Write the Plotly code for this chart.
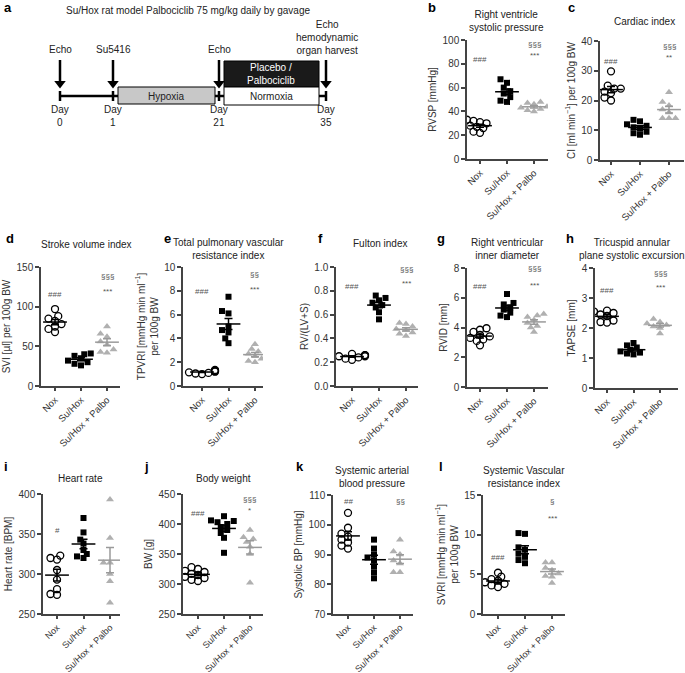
"""Su/Hox rat model with Palbociclib: timeline schematic (a) and dot plots (b-l)."""

import numpy as np
import plotly.graph_objects as go

W, H = 685, 673
FONT = "Liberation Sans, Arial, sans-serif"
AXIS_COLOR = "#444444"
TEXT_COLOR = "#222222"

GROUPS = ["Nox", "Su/Hox", "Su/Hox + Palbo"]

# a: study timeline
timeline_title = "Su/Hox rat model Palbociclib 75 mg/kg daily by gavage"
timeline_days = ["0", "1", "21", "35"]
timeline_events = ["Echo", "Su5416", "Echo", "Echo<br>hemodynamic<br>organ harvest"]
phase_hypoxia = "Hypoxia"
phase_normoxia = "Normoxia"
phase_treatment = "Placebo /<br>Palbociclib"

# b: RVSP [mmHg]
rvsp_nox = [22, 23, 26, 27, 28, 30, 31, 32, 33]
rvsp_suhox = [67, 64, 60, 57, 55, 52, 49, 48]
rvsp_palbo = [48, 47, 46, 44, 43, 42, 41, 40]

# c: cardiac index
ci_nox = [29.8, 25, 24, 24, 23, 22.5, 21, 20]
ci_suhox = [13.5, 13, 12, 11.5, 11, 10.5, 9.5, 9, 8.5]
ci_palbo = [22.8, 19.5, 18.3, 17, 16, 14, 14, 14]

# d: stroke volume index
svi_nox = [97, 88, 85, 82, 78, 75, 72, 68]
svi_suhox = [41, 40, 38, 35, 32, 30, 28, 26]
svi_palbo = [75, 66, 62, 56, 52, 46, 43, 42]

# e: total pulmonary vascular resistance index
tpvri_nox = [1.0, 1.05, 1.1, 1.15, 1.2, 1.25, 1.3, 1.35]
tpvri_suhox = [7.5, 6.3, 6.1, 5.0, 4.7, 4.5, 4.0, 3.6]
tpvri_palbo = [3.5, 3.1, 2.9, 2.7, 2.5, 2.3, 2.1, 2.0]

# f: Fulton index
fulton_nox = [0.27, 0.26, 0.26, 0.25, 0.25, 0.24, 0.23, 0.22]
fulton_suhox = [0.76, 0.74, 0.72, 0.70, 0.68, 0.66, 0.62, 0.56]
fulton_palbo = [0.53, 0.52, 0.50, 0.48, 0.47, 0.45, 0.44, 0.42]

# g: RV inner diameter [mm]
rvid_nox = [3.95, 3.85, 3.7, 3.5, 3.4, 3.3, 3.2, 3.1, 2.8]
rvid_suhox = [6.25, 5.65, 5.55, 5.35, 5.2, 5.0, 4.8, 4.7]
rvid_palbo = [4.9, 4.8, 4.7, 4.5, 4.3, 4.1, 4.0, 3.7]

# h: TAPSE [mm]
tapse_nox = [2.58, 2.55, 2.5, 2.45, 2.4, 2.25, 2.2, 2.18]
tapse_suhox = [1.5, 1.42, 1.35, 1.28, 1.22, 1.18, 1.15, 1.12]
tapse_palbo = [2.3, 2.2, 2.15, 2.1, 2.05, 2.0, 1.82]

# i: heart rate [BPM]
hr_nox = [323, 320, 318, 305, 293, 281, 275, 274]
hr_suhox = [370, 352, 343, 338, 330, 325, 322, 320]
hr_palbo = [393, 345, 314, 314, 300, 291, 264]

# j: body weight [g]
bw_nox = [328, 325, 322, 320, 317, 315, 312, 310, 307, 305]
bw_suhox = [413, 406, 405, 403, 400, 395, 390, 385, 377, 352]
bw_palbo = [390, 378, 375, 370, 362, 350, 302]

# k: systolic BP [mmHg]
sbp_nox = [104, 99, 97, 96, 95, 94, 93, 92]
sbp_suhox = [95, 92, 90, 89, 88, 86, 84, 82]
sbp_palbo = [95, 91, 90, 88, 87, 84, 84]

# l: systemic vascular resistance index
svri_nox = [5.2, 4.7, 4.4, 4.2, 4.0, 3.8, 3.6, 3.4]
svri_suhox = [10.2, 10.1, 8.4, 8.1, 7.6, 7.2, 6.8, 6.4]
svri_palbo = [6.5, 6.5, 5.8, 5.5, 5.1, 4.8, 4.7, 3.9]


def px(x):
    return x / W


def py(y):
    return 1 - y / H


PANELS = [
    dict(letter="b", letter_xy=(426, 8), title="Right ventricle<br>systolic pressure", title_xy=(506, 21),
         ytitle="RVSP [mmHg]", data=(rvsp_nox, rvsp_suhox, rvsp_palbo),
         yrange=(0, 100), dtick=20, fmt="d", box=(467, 548, 40, 159), first=480, step=27,
         marks=[("###", 0, 84), ("§§§", 2, 96.6), ("***", 2, 87)]),
    dict(letter="c", letter_xy=(566, 8), title="Cardiac index", title_xy=(644, 21),
         ytitle="CI [ml min<sup>−1</sup>] per 100g BW", data=(ci_nox, ci_suhox, ci_palbo),
         yrange=(0, 40), dtick=10, fmt="d", box=(600, 684, 41, 160), first=611, step=29,
         marks=[("###", 0, 33.1), ("§§§", 2, 38), ("**", 2, 34.3)]),
    dict(letter="d", letter_xy=(4, 238), title="Stroke volume index", title_xy=(87, 244),
         ytitle="SVI [µl] per 100g BW", data=(svi_nox, svi_suhox, svi_palbo),
         yrange=(0, 150), dtick=50, fmt="d", box=(41, 120, 267, 386), first=55, step=26,
         marks=[("###", 0, 115), ("§§§", 2, 138), ("***", 2, 119)]),
    dict(letter="e", letter_xy=(162, 238), title="Total pulmonary vascular<br>resistance index",
         title_xy=(228, 249),
         ytitle="TPVRI [mmHg min ml<sup>−1</sup>]<br>per 100g BW", data=(tpvri_nox, tpvri_suhox, tpvri_palbo),
         yrange=(0, 10), dtick=2, fmt="d", box=(183, 263, 267, 386), first=202, step=26.5,
         marks=[("###", 0, 7.95), ("§§", 2, 9.35), ("***", 2, 8.1)]),
    dict(letter="f", letter_xy=(316, 238), title="Fulton index", title_xy=(380, 243),
         ytitle="RV/(LV+S)", data=(fulton_nox, fulton_suhox, fulton_palbo),
         yrange=(0, 1), dtick=0.2, fmt=".1f", box=(336, 418, 267, 386), first=352, step=27,
         marks=[("###", 0, 0.84), ("§§§", 2, 0.98), ("***", 2, 0.86)]),
    dict(letter="g", letter_xy=(435, 238), title="Right ventricular<br>inner diameter", title_xy=(507, 249),
         ytitle="RVID [mm]", data=(rvid_nox, rvid_suhox, rvid_palbo),
         yrange=(0, 8), dtick=2, fmt="d", box=(467, 548, 268, 387), first=480, step=27,
         marks=[("###", 0, 6.73), ("§§§", 2, 7.95), ("***", 2, 6.84)]),
    dict(letter="h", letter_xy=(564, 238), title="Tricuspid annular<br>plane systolic excursion",
         title_xy=(632, 249),
         ytitle="TAPSE [mm]", data=(tapse_nox, tapse_suhox, tapse_palbo),
         yrange=(0, 4), dtick=1, fmt="d", box=(595, 678, 268, 388), first=607, step=26.5,
         marks=[("###", 0, 3.24), ("§§§", 2, 3.83), ("***", 2, 3.35)]),
    dict(letter="i", letter_xy=(2, 466), title="Heart rate", title_xy=(80, 478),
         ytitle="Heart rate [BPM]", data=(hr_nox, hr_suhox, hr_palbo),
         yrange=(250, 400), dtick=50, fmt="d", box=(43, 120, 494, 614), first=57, step=26.5,
         marks=[("#", 0, 355)]),
    dict(letter="j", letter_xy=(142, 466), title="Body weight", title_xy=(223, 478),
         ytitle="BW [g]", data=(bw_nox, bw_suhox, bw_palbo),
         yrange=(250, 450), dtick=50, fmt="d", box=(183, 263, 494, 614), first=198, step=26,
         marks=[("###", 0, 418), ("§§§", 2, 440), ("*", 2, 422)]),
    dict(letter="k", letter_xy=(294, 466), title="Systemic arterial<br>blood pressure", title_xy=(372, 477),
         ytitle="Systolic BP [mmHg]", data=(sbp_nox, sbp_suhox, sbp_palbo),
         yrange=(70, 110), dtick=10, fmt="d", box=(333, 413, 495, 614), first=348, step=26,
         marks=[("##", 0, 107.8), ("§§", 2, 107.8)]),
    dict(letter="l", letter_xy=(437, 466), title="Systemic Vascular<br>resistance index", title_xy=(524, 477),
         ytitle="SVRI [mmHg min ml<sup>−1</sup>]<br>per 100g BW", data=(svri_nox, svri_suhox, svri_palbo),
         yrange=(0, 15), dtick=5, fmt="d", box=(483, 565, 495, 614), first=498, step=27,
         marks=[("###", 0, 7.1), ("§", 2, 14.2), ("***", 2, 12)]),
]

STYLES = [
    dict(symbol="circle-open", color="black", size=7, lw=1.3, bar="black"),
    dict(symbol="square", color="black", size=6, lw=0, bar="black"),
    dict(symbol="triangle-up", color="#b0b0b0", size=7, lw=0, bar="#9a9a9a"),
]


def swarm(vals, px_per_y, px_per_x, diam=6.5):
    """Simple beeswarm offsets; markers may overlap a little, like the original."""
    vals = np.asarray(vals, dtype=float)
    offsets = np.zeros(len(vals))
    placed = []
    for i in np.argsort(vals):
        y = vals[i] * px_per_y
        for c in [0, -1, 1, -2, 2, -3, 3, -4, 4]:
            x = c * diam * 0.5
            if all((x - a) ** 2 + (y - b) ** 2 >= (diam * 0.75) ** 2 for a, b in placed):
                break
        placed.append((x, y))
        offsets[i] = x / px_per_x
    return offsets


fig = go.Figure()
annotations = []
shapes = []

for k, p in enumerate(PANELS, start=1):
    x0, x1, ytop, ybot = p["box"]
    lo = -(p["first"] - x0) / p["step"]
    hi = (x1 - p["first"]) / p["step"]
    ymin, ymax = p["yrange"]
    px_per_y = (ybot - ytop) / (ymax - ymin)
    xa, ya = f"x{k}", f"y{k}"
    xtick_size = 9 if ybot > 450 else 9.5  # bottom row sits close to the page edge

    for g, (vals, st) in enumerate(zip(p["data"], STYLES)):
        offs = swarm(vals, px_per_y, p["step"])
        fig.add_trace(go.Scatter(
            x=g + offs, y=vals, mode="markers", xaxis=xa, yaxis=ya,
            marker=dict(symbol=st["symbol"], color=st["color"], size=st["size"],
                        line=dict(color=st["color"], width=st["lw"])),
            hoverinfo="y",
        ))
        mean = float(np.mean(vals))
        sem = float(np.std(vals, ddof=1) / np.sqrt(len(vals)))
        fig.add_trace(go.Scatter(
            x=[g], y=[mean], mode="markers", xaxis=xa, yaxis=ya,
            marker=dict(symbol="line-ew", size=17, line=dict(color=st["bar"], width=1.5)),
            error_y=dict(type="data", array=[sem], width=4, thickness=1.5, color=st["bar"]),
            hoverinfo="y",
        ))

    for text, g, yv in p["marks"]:
        annotations.append(dict(x=g, y=yv, xref=xa, yref=ya, text=text, showarrow=False,
                                font=dict(size=8, color="#555555", family=FONT), yanchor="middle"))

    fig.update_layout({
        f"xaxis{k}": dict(domain=[px(x0), px(x1)], range=[lo, hi], anchor=ya, automargin=False,
                          tickvals=[0, 1, 2], ticktext=GROUPS, tickangle=-45,
                          showline=True, linecolor=AXIS_COLOR, linewidth=1.5,
                          ticks="outside", ticklen=3, tickwidth=1.5, tickcolor=AXIS_COLOR,
                          showgrid=False, zeroline=False,
                          tickfont=dict(size=xtick_size, color="#333333", family=FONT)),
        f"yaxis{k}": dict(domain=[py(ybot), py(ytop)], range=[ymin, ymax], anchor=xa, automargin=False,
                          dtick=p["dtick"], tick0=ymin, tickformat=p["fmt"],
                          showline=True, linecolor=AXIS_COLOR, linewidth=1.5,
                          ticks="outside", ticklen=4, tickwidth=1.5, tickcolor=AXIS_COLOR,
                          showgrid=False, zeroline=False,
                          tickfont=dict(size=10, color="#333333", family=FONT),
                          title=dict(text=p["ytitle"], standoff=4,
                                     font=dict(size=10, color="#333333", family=FONT))),
    })

    lx, ly = p["letter_xy"]
    annotations.append(dict(x=px(lx), y=py(ly), xref="paper", yref="paper", text=f"<b>{p['letter']}</b>",
                            showarrow=False, xanchor="left", yanchor="middle",
                            font=dict(size=13, color="black", family=FONT)))
    tx, ty = p["title_xy"]
    annotations.append(dict(x=px(tx), y=py(ty), xref="paper", yref="paper", text=p["title"],
                            showarrow=False, xanchor="center", yanchor="middle",
                            font=dict(size=10, color=TEXT_COLOR, family=FONT)))

# ---- panel a: timeline schematic drawn on its own hidden axis (units = px) ----
ka = len(PANELS) + 1
xa, ya = f"x{ka}", f"y{ka}"
fig.update_layout({
    f"xaxis{ka}": dict(domain=[0, px(340)], range=[0, 340], visible=False, anchor=ya, automargin=False),
    f"yaxis{ka}": dict(domain=[py(140), 1], range=[140, 0], visible=False, anchor=xa, automargin=False),
})

day_x = [60, 113, 219, 326]
line_y = 96


def seg(x0, y0, x1, y1, width=2.5, color="black"):
    shapes.append(dict(type="line", xref=xa, yref=ya, x0=x0, y0=y0, x1=x1, y1=y1,
                       line=dict(color=color, width=width)))


seg(day_x[0], line_y, day_x[-1], line_y)
for dx in day_x:
    seg(dx, line_y - 5, dx, line_y + 5, width=2.5)
    seg(dx, 60, dx, 82, width=2.5)  # arrow shaft

shapes.append(dict(type="rect", xref=xa, yref=ya, x0=118, x1=215, y0=87, y1=104,
                   fillcolor="#c8c8c8", line=dict(color="black", width=1)))
shapes.append(dict(type="rect", xref=xa, yref=ya, x0=224, x1=319, y0=61, y1=87,
                   fillcolor="#1a1a1a", line=dict(color="black", width=1)))
shapes.append(dict(type="rect", xref=xa, yref=ya, x0=224, x1=319, y0=87, y1=105,
                   fillcolor="white", line=dict(color="black", width=1)))

# arrow heads
fig.add_trace(go.Scatter(x=day_x, y=[83.5] * len(day_x), xaxis=xa, yaxis=ya, mode="markers",
                         marker=dict(symbol="triangle-down", size=10, color="black"),
                         hoverinfo="skip"))


def label(x, y, text, color=TEXT_COLOR, size=10):
    annotations.append(dict(x=x, y=y, xref=xa, yref=ya, text=text, showarrow=False,
                            xanchor="center", yanchor="middle",
                            font=dict(size=size, color=color, family=FONT)))


label(166, 96, phase_hypoxia)
label(271, 96, phase_normoxia)
label(271, 74, phase_treatment, color="white")

for dx, day, ev in zip(day_x, timeline_days, timeline_events):
    label(dx, 116, f"Day<br>{day}")
    if "<br>" in ev:
        label(dx + 1, 37, ev)
    else:
        label(dx, 49, ev)

label(188, 10, timeline_title)
annotations.append(dict(x=px(2), y=py(8), xref="paper", yref="paper", text="<b>a</b>",
                        showarrow=False, xanchor="left", yanchor="middle",
                        font=dict(size=13, color="black", family=FONT)))

fig.update_layout(
    template="none",
    width=W, height=H,
    margin=dict(l=0, r=0, t=0, b=0, pad=0),
    paper_bgcolor="white", plot_bgcolor="white",
    showlegend=False,
    annotations=annotations,
    shapes=shapes,
    font=dict(family=FONT),
)

# the page body has a default 8px margin; remove it so the figure sits at the window's corner
fig.write_html("out.html", config={"displayModeBar": False},
               post_script="document.body.style.margin='0';document.body.style.overflow='hidden';")
